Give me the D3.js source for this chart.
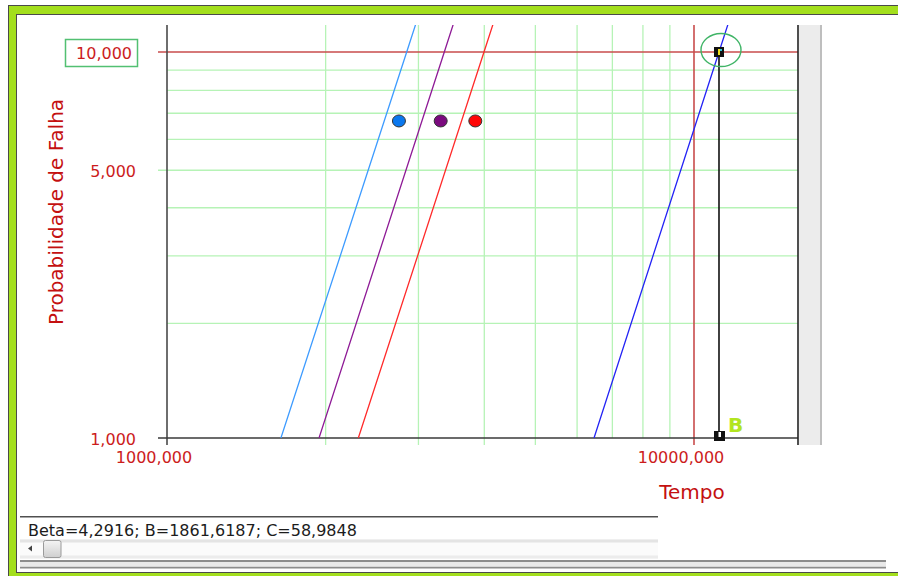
<!DOCTYPE html>
<html>
<head>
<meta charset="utf-8">
<script src="https://cdn.jsdelivr.net/npm/d3@7/dist/d3.min.js"></script>
<style>
  html, body { margin: 0; padding: 0; background: #ffffff; }
  svg { display: block; }
  text { font-family: "DejaVu Sans", Verdana, sans-serif; }
</style>
</head>
<body>
<script>
// ---- dados ----
// Probabilidade de falha (%) nos pontos lidos de cada curva de Weibull
const curveProbs = [1, 10, 12];
// Tempos correspondentes a cada curva
const tempoAzulClaro = [1645, 2850, 2981];
const tempoRoxo      = [1943, 3359, 3513];
const tempoVermelho  = [2307, 3995, 4179];
const tempoAzul      = [6461, 11154, 11667];

// Marcadores circulares das três curvas
const pontoTempo = [2755, 3306, 3846];
const pontoProb = 6.69;

// Ponto selecionado (B) sobre a curva azul
const selTempo = 11154;
const selProb = 10;

// Eixos
const yTickProbs = [1, 5, 10];
const yGridProbs = [2, 3, 4, 5, 6, 7, 8, 9];
const xTickTempos = [1000, 10000];
const xGridTempos = [2000, 3000, 4000, 5000, 6000, 7000, 8000, 9000];
const xLongTicks = [2000, 3000, 4000, 5000];

const statusText = "Beta=4,2916; B=1861,6187; C=58,9848";

// ---- escalas ----
const W = 898, H = 576;
const plotLeft = 167, plotRight = 798, plotTop = 25, plotBottom = 438;

const weib = p => Math.log(-Math.log(1 - p / 100));
const x = d3.scaleLog().domain([1000, 10000]).range([plotLeft, 694]);
const yLin = d3.scaleLinear().domain([weib(1), weib(10)]).range([plotBottom, 52]);
const y = p => yLin(weib(p));

const ptBR = d3.formatLocale({ decimal: ",", thousands: ".", grouping: [3], currency: ["R$", ""] });
const fmt3 = ptBR.format(".3f");

const svg = d3.select("body").append("svg").attr("width", W).attr("height", H);

// ---- moldura da janela ----
svg.append("rect").attr("x", 8.5).attr("y", 5.5).attr("width", 900).attr("height", 600)
  .attr("fill", "#a3df1d").attr("stroke", "#4a4a4a").attr("stroke-width", 1);
svg.append("rect").attr("x", 16.5).attr("y", 14.5).attr("width", 900).attr("height", 558)
  .attr("fill", "#ffffff").attr("stroke", "#4a4a4a").attr("stroke-width", 1);

// painel divisor à direita
svg.append("rect").attr("x", 799).attr("y", plotTop).attr("width", 21).attr("height", 445 - plotTop)
  .attr("fill", "#ececec");
svg.append("line").attr("x1", 821).attr("x2", 821).attr("y1", plotTop).attr("y2", 445)
  .attr("stroke", "#a8a8a8").attr("stroke-width", 1.5);

// ---- grade ----
const grid = svg.append("g");
grid.selectAll("line.gy").data(yGridProbs).join("line")
  .attr("x1", d => d === 5 ? 158 : plotLeft).attr("x2", plotRight)
  .attr("y1", d => y(d)).attr("y2", d => y(d))
  .attr("stroke", "#b6f3b6").attr("stroke-width", 1.3);
grid.selectAll("line.gx").data(xGridTempos).join("line")
  .attr("x1", d => x(d)).attr("x2", d => x(d))
  .attr("y1", plotTop).attr("y2", d => xLongTicks.includes(d) ? 445 : plotBottom)
  .attr("stroke", "#b6f3b6").attr("stroke-width", 1.3);

// linhas de referência vermelhas (10% e 10000)
svg.append("line").attr("x1", 158).attr("x2", plotRight).attr("y1", y(10)).attr("y2", y(10))
  .attr("stroke", "#c84c4c").attr("stroke-width", 1.6);
svg.append("line").attr("x1", x(10000)).attr("x2", x(10000)).attr("y1", plotTop).attr("y2", 445)
  .attr("stroke", "#c84c4c").attr("stroke-width", 1.6);

// eixos
svg.append("line").attr("x1", plotLeft).attr("x2", plotLeft).attr("y1", plotTop).attr("y2", 445)
  .attr("stroke", "#4a4a4a").attr("stroke-width", 1.6);
svg.append("line").attr("x1", 158).attr("x2", plotRight).attr("y1", plotBottom).attr("y2", plotBottom)
  .attr("stroke", "#3a3a3a").attr("stroke-width", 1.6);
svg.append("line").attr("x1", plotRight).attr("x2", plotRight).attr("y1", plotTop).attr("y2", 445)
  .attr("stroke", "#222").attr("stroke-width", 1.6);

// ---- curvas ----
svg.append("clipPath").attr("id", "area").append("rect")
  .attr("x", plotLeft).attr("y", plotTop).attr("width", plotRight - plotLeft).attr("height", plotBottom - plotTop);

const curves = [
  { t: tempoAzulClaro, color: "#3d9bff" },
  { t: tempoRoxo, color: "#8e1a96" },
  { t: tempoVermelho, color: "#ff2a2a" },
  { t: tempoAzul, color: "#2323f5" }
];
const lineGen = d3.line().x(d => x(d[0])).y(d => y(d[1]));
svg.append("g").attr("clip-path", "url(#area)")
  .selectAll("path").data(curves).join("path")
  .attr("d", c => lineGen(c.t.map((t, i) => [t, curveProbs[i]])))
  .attr("fill", "none").attr("stroke", c => c.color).attr("stroke-width", 1.3);

// marcadores circulares
const dotColors = ["#0b78ee", "#7a0a7e", "#ff0606"];
svg.selectAll("ellipse.dot").data(pontoTempo).join("ellipse")
  .attr("cx", d => x(d)).attr("cy", y(pontoProb))
  .attr("rx", 6.5).attr("ry", 6)
  .attr("fill", (d, i) => dotColors[i]).attr("stroke", "#333").attr("stroke-width", 1);

// ---- ponto selecionado ----
const sx = x(selTempo), sy = y(selProb);
svg.append("line").attr("x1", sx).attr("x2", sx).attr("y1", sy).attr("y2", plotBottom - 2)
  .attr("stroke", "#111").attr("stroke-width", 1.6);
svg.append("ellipse").attr("cx", sx + 2).attr("cy", sy - 2).attr("rx", 20).attr("ry", 16.5)
  .attr("fill", "none").attr("stroke", "#3fb466").attr("stroke-width", 1.4);
svg.append("rect").attr("x", sx - 5).attr("y", sy - 5).attr("width", 10).attr("height", 10)
  .attr("fill", "#111");
svg.append("rect").attr("x", sx - 1).attr("y", sy - 3).attr("width", 2).attr("height", 6)
  .attr("fill", "#f0e020");
svg.append("rect").attr("x", sx + 1).attr("y", sy - 3).attr("width", 2).attr("height", 2)
  .attr("fill", "#30c8d8");

// marcador no eixo do tempo
svg.append("rect").attr("x", sx - 5).attr("y", plotBottom - 7).attr("width", 11).attr("height", 10)
  .attr("fill", "#111");
svg.append("rect").attr("x", sx - 0.5).attr("y", plotBottom - 6).attr("width", 2.5).attr("height", 5)
  .attr("fill", "#ffffff");
svg.append("text").attr("x", sx + 9).attr("y", plotBottom - 6.5)
  .attr("font-size", 20).attr("font-weight", "bold").attr("fill", "#b2e51f").text("B");

// ---- rótulos dos eixos ----
svg.append("rect").attr("x", 65.5).attr("y", 39.5).attr("width", 72).attr("height", 27)
  .attr("fill", "#fff").attr("stroke", "#52c072").attr("stroke-width", 1.5);

svg.selectAll("text.ytick").data(yTickProbs).join("text")
  .attr("x", d => d === 10 ? 132 : 136).attr("y", d => y(d) + 7)
  .attr("text-anchor", "end").attr("font-size", 16).attr("fill", "#cc1c1c")
  .text(d => fmt3(d));

svg.selectAll("text.xtick").data(xTickTempos).join("text")
  .attr("x", d => x(d) - 13).attr("y", 462.5)
  .attr("text-anchor", "middle").attr("font-size", 16).attr("fill", "#cc1c1c")
  .text(d => fmt3(d));

svg.append("text").attr("x", 692).attr("y", 499).attr("text-anchor", "middle")
  .attr("font-size", 20).attr("fill", "#c41010").text("Tempo");

svg.append("text").attr("transform", "translate(63,212) rotate(-90)").attr("text-anchor", "middle")
  .attr("font-size", 20).attr("fill", "#c41010").text("Probabilidade de Falha");

// ---- barra de status ----
svg.append("line").attr("x1", 20).attr("x2", 658).attr("y1", 516.7).attr("y2", 516.7)
  .attr("stroke", "#505050").attr("stroke-width", 1.5);
svg.append("text").attr("x", 28).attr("y", 536).attr("font-size", 16).attr("fill", "#1c1c1c")
  .text(statusText);

// barra de rolagem
svg.append("rect").attr("x", 20).attr("y", 539).attr("width", 638).attr("height", 20).attr("fill", "#fbfbfb");
svg.append("rect").attr("x", 20).attr("y", 539.5).attr("width", 638).attr("height", 3).attr("fill", "#e4e4e4");
svg.append("rect").attr("x", 20).attr("y", 555.5).attr("width", 638).attr("height", 3).attr("fill", "#ececec");
svg.append("path").attr("d", "M28,548.5 L32,545.5 L32,551.5 Z").attr("fill", "#444");
const grad = svg.append("defs").append("linearGradient").attr("id", "thumb")
  .attr("x1", 0).attr("x2", 0).attr("y1", 0).attr("y2", 1);
grad.append("stop").attr("offset", 0).attr("stop-color", "#f4f4f4");
grad.append("stop").attr("offset", 1).attr("stop-color", "#cfcfcf");
svg.append("rect").attr("x", 43.5).attr("y", 540.5).attr("width", 17.5).attr("height", 17)
  .attr("rx", 2).attr("fill", "url(#thumb)").attr("stroke", "#9a9a9a");

// linhas duplas inferiores
svg.append("line").attr("x1", 20).attr("x2", 886).attr("y1", 561).attr("y2", 561)
  .attr("stroke", "#8c8c8c").attr("stroke-width", 2);
svg.append("line").attr("x1", 20).attr("x2", 886).attr("y1", 567.5).attr("y2", 567.5)
  .attr("stroke", "#8c8c8c").attr("stroke-width", 2);
svg.append("rect").attr("x", 20).attr("y", 562).attr("width", 866).attr("height", 4.5).attr("fill", "#e9e9e9");
</script>
</body>
</html>
